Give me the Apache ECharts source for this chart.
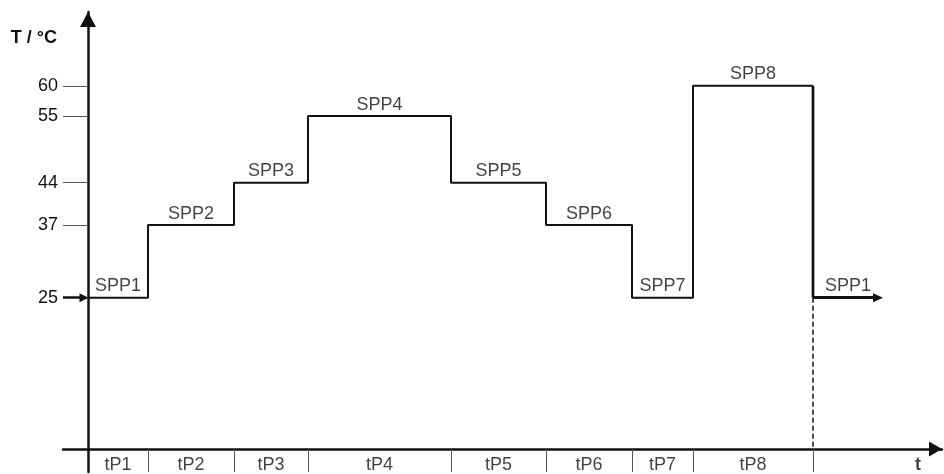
<!DOCTYPE html>
<html><head><meta charset="utf-8">
<script src="https://cdn.jsdelivr.net/npm/echarts@6/dist/echarts.min.js"></script>
<style>html,body{margin:0;padding:0;background:#fff}#c{width:944px;height:474px}</style>
</head><body><div id="c"></div>
<script>
// ---- data ----
const phases = ['tP1','tP2','tP3','tP4','tP5','tP6','tP7','tP8'];
const setpointNames = ['SPP1','SPP2','SPP3','SPP4','SPP5','SPP6','SPP7','SPP8'];
const setpoints = [25, 37, 44, 55, 44, 37, 25, 60];
const durations = [60, 86, 74, 143, 95, 86, 61, 120];
const yTickLabels = [25, 37, 44, 55, 60];
const returnName = 'SPP1';
const returnTemp = 25;
const returnLength = 70;
const timeAxisLabel = 't';
const timeAxisLabelPos = 830;
const tempAxisLabel = 'T / °C';

// ---- derived ----
const starts = [], ends = [];
let acc = 0;
durations.forEach(d => { starts.push(acc); acc += d; ends.push(acc); });
const total = acc;
const mids = starts.map((s, i) => (s + ends[i]) / 2);

const profile = [];
setpoints.forEach((v, i) => { profile.push([starts[i], v]); profile.push([ends[i], v]); });
const returnLine = [[total, setpoints[setpoints.length - 1]], [total, returnTemp]];

const spLabels = setpoints.map((v, i) => ({ value: [mids[i], v], name: setpointNames[i] }));
spLabels.push({ value: [total + returnLength / 2, returnTemp], name: returnName });

const Y_MIN = -3.8, Y_MAX = 72.2, X_MIN = -25, X_MAX = 854;
const LABEL_ROW = -2.65;   // vertical position of the phase labels row (below the time axis)
const phaseLabels = phases.map((p, i) => ({ value: [mids[i], LABEL_ROW], name: p }));
phaseLabels.push({ value: [timeAxisLabelPos, LABEL_ROW], name: '{b|' + timeAxisLabel + '}' });

const FONT = "'Liberation Sans', Arial, sans-serif";
const INK = '#111';
const TXT = '#111';
const TICK = '#555';

const dividers = ends.map(e => [
  { coord: [e, 0], symbol: 'none' },
  { coord: [e, Y_MIN], symbol: 'none', lineStyle: { color: TICK, width: 1, type: 'solid' } }
]);

const chart = echarts.init(document.getElementById('c'), null, { renderer: 'canvas' });
chart.setOption({
  animation: false,
  backgroundColor: '#fff',
  grid: { left: 63, right: 2, top: 12, bottom: 2, containLabel: false, outerBoundsMode: 'none' },
  xAxis: {
    type: 'value', min: X_MIN, max: X_MAX,
    splitLine: { show: false },
    axisLine: { onZero: true, lineStyle: { color: INK, width: 2.5 },
      symbol: ['none', 'triangle'], symbolSize: [15, 13], symbolOffset: [0, -6.5] },
    axisTick: { show: false },
    axisLabel: { show: false }
  },
  yAxis: {
    type: 'value', min: Y_MIN, max: Y_MAX,
    name: tempAxisLabel, nameLocation: 'end', nameGap: -26,
    nameTextStyle: { fontFamily: FONT, fontSize: 18, fontWeight: 'bold', color: TXT,
      align: 'right', verticalAlign: 'middle', padding: [0, 31, 0, 0] },
    splitLine: { show: false },
    axisLine: { onZero: true, lineStyle: { color: INK, width: 2.5 },
      symbol: ['none', 'triangle'], symbolSize: [16, 15], symbolOffset: [0, -7.5] },
    axisTick: { show: true, customValues: yTickLabels.filter(v => v !== returnTemp), length: 25,
      lineStyle: { color: TICK, width: 1 } },
    axisLabel: { customValues: yTickLabels, margin: 5, fontFamily: FONT, fontSize: 18, color: TXT }
  },
  series: [
    {
      type: 'line', data: profile, showSymbol: false, symbol: 'none',
      lineStyle: { color: INK, width: 2 }, z: 3, clip: false,
      markLine: {
        silent: true, animation: false, label: { show: false },
        data: [
          [{ coord: [X_MIN, returnTemp], symbol: 'none' },
           { coord: [-4, returnTemp], symbol: 'triangle', symbolSize: [9, 9],
             lineStyle: { color: INK, width: 2.5, type: 'solid' } }],
          [{ coord: [total, returnTemp], symbol: 'none' },
           { coord: [total, 0], symbol: 'none',
             lineStyle: { color: INK, width: 1.5, type: [5, 3] } }],
          [{ coord: [total, returnTemp], symbol: 'none' },
           { coord: [total + returnLength - 5, returnTemp], symbol: 'triangle', symbolSize: [9, 10],
             lineStyle: { color: INK, width: 3, type: 'solid' } }]
        ].concat(dividers)
      }
    },
    {
      type: 'line', data: returnLine, showSymbol: false, symbol: 'none',
      lineStyle: { color: INK, width: 2.7 }, z: 4
    },
    {
      type: 'scatter', data: spLabels, symbolSize: 1, itemStyle: { color: 'rgba(0,0,0,0)' },
      silent: true, z: 5,
      label: { show: true, position: 'top', distance: 2, formatter: p => p.name,
        fontFamily: FONT, fontSize: 18, color: TXT }
    },
    {
      type: 'scatter', data: phaseLabels, symbolSize: 1, itemStyle: { color: 'rgba(0,0,0,0)' },
      silent: true, z: 5,
      label: { show: true, position: 'inside', formatter: p => p.name,
        fontFamily: FONT, fontSize: 18, color: TXT,
        rich: { b: { fontFamily: FONT, fontSize: 18, fontWeight: 'bold', color: TXT } } }
    }
  ]
});
</script>
</body></html>
